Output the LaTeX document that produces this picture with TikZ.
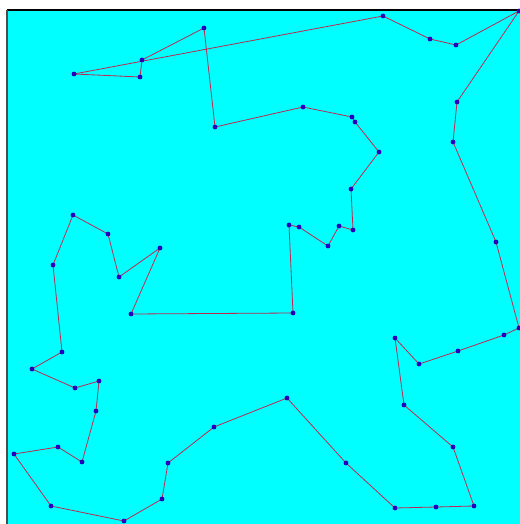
\documentclass[tikz,border=0pt]{standalone}
\usetikzlibrary{backgrounds}
\definecolor{bgcyan}{RGB}{0,255,255}
\definecolor{edgecol}{RGB}{190,40,80}
\definecolor{dotcol}{RGB}{40,0,190}
\pgfdeclarelayer{edges}
\pgfsetlayers{background,edges,main}
\begin{document}
\begin{tikzpicture}[x=0.75pt,y=-0.75pt,
  city/.style={circle,fill=dotcol,draw=none,inner sep=0pt,minimum size=3.6pt},
  tour/.style={draw=edgecol,line width=0.6pt}]
\useasboundingbox (0,0) rectangle (520,524);
\begin{pgfonlayer}{background}
  \fill[white] (0,0) rectangle (520,524);
  \fill[bgcyan] (7,10) rectangle (520,524);
  \draw[black,line width=1.5pt] (7,10) -- (520,10);
  \draw[black!70,line width=0.8pt] (7,10) -- (7,524);
\end{pgfonlayer}
\foreach \i/\x/\y in {1/519/11,2/456/45,3/430/39,4/383/16,5/74/74,6/140/77,7/142/60,8/204/28,
  9/215/127,10/303/107,11/352/117,12/355/122,13/379/152,14/351/189,15/353/230,16/339/226,
  17/328/246,18/299/227,19/289/225,20/293/313,21/131/314,22/160/248,23/119/277,24/108/234,
  25/73/215,26/53/265,27/62/352,28/32/369,29/75/388,30/99/381,31/96/411,32/82/462,
  33/58/447,34/14/454,35/51/506,36/124/521,37/162/499,38/168/463,39/214/427,40/287/398,
  41/346/463,42/395/508,43/436/507,44/474/506,45/453/447,46/404/405,47/395/338,48/419/364,
  49/458/351,50/504/335,51/519/328,52/496/242,53/453/142,54/457/102}
  \node[city] (p\i) at (\x,\y) {};
\begin{pgfonlayer}{edges}
\foreach \i [evaluate=\i as \j using {int(mod(\i,54)+1)}] in {1,...,54}
  \draw[tour] (p\i.center) -- (p\j.center);
\end{pgfonlayer}
\end{tikzpicture}
\end{document}
